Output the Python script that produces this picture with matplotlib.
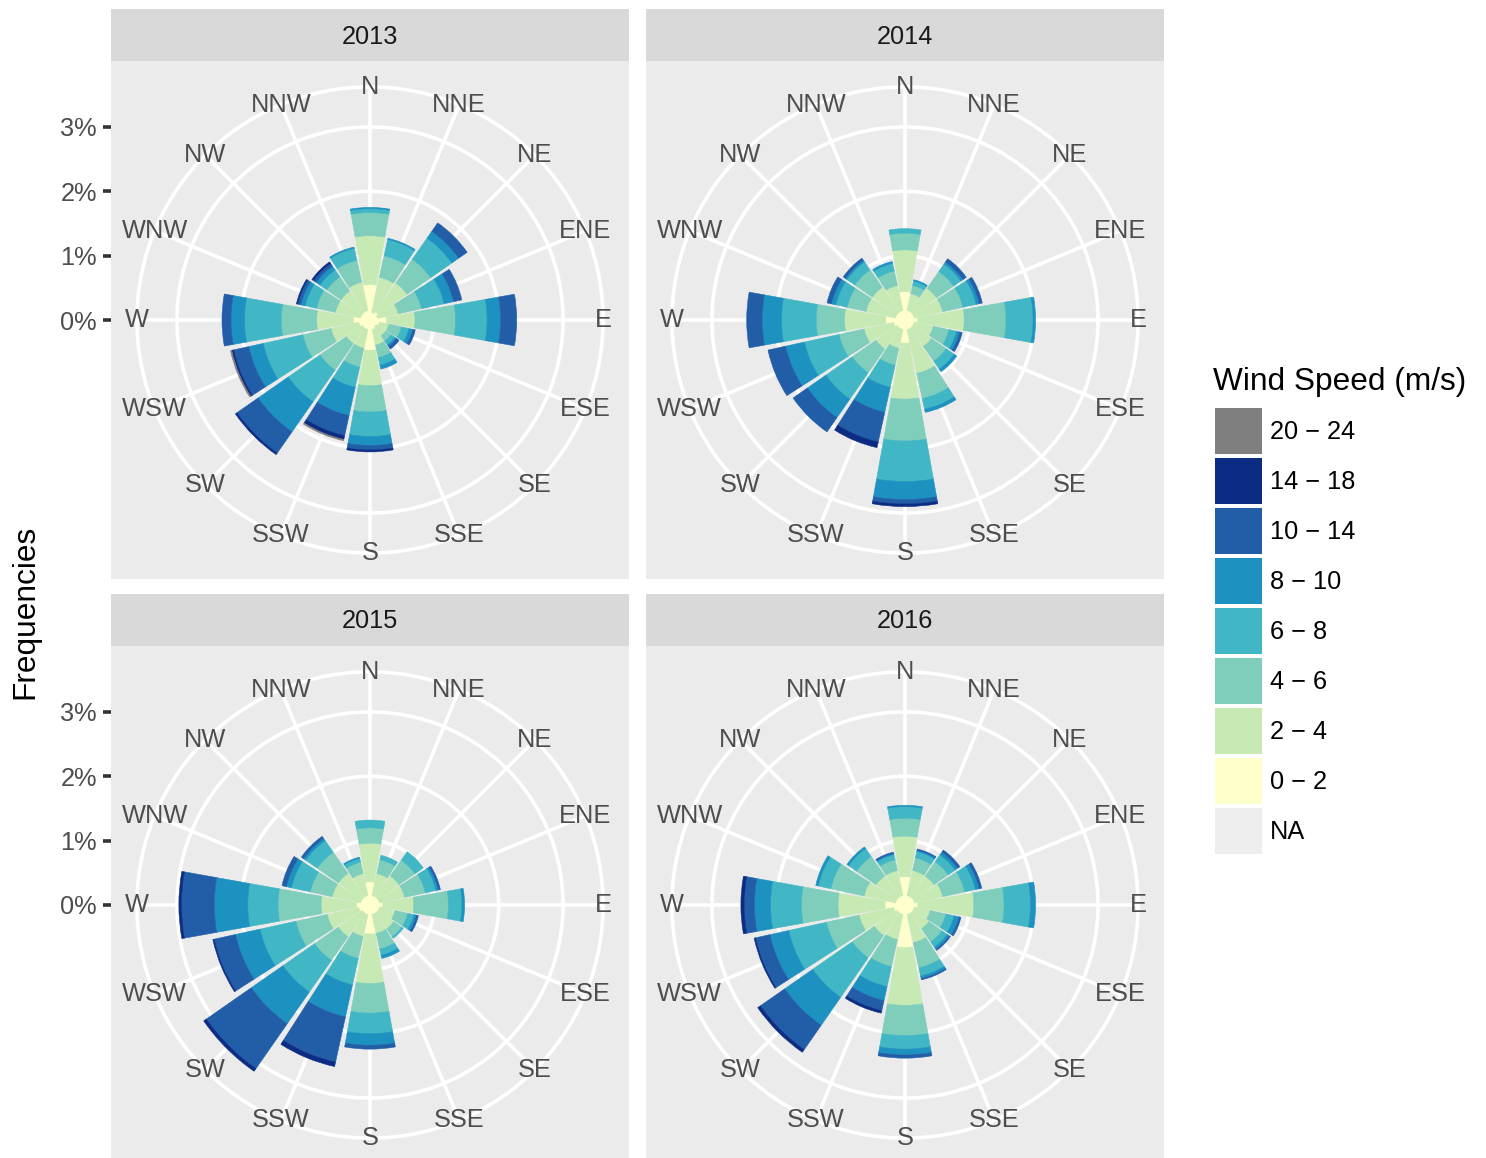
import numpy as np
import matplotlib
matplotlib.use("Agg")
import matplotlib.pyplot as plt
from matplotlib.patches import Rectangle

plt.rcParams['font.family'] = ['Liberation Sans', 'DejaVu Sans']

W_PX, H_PX, DPI = 1486, 1158, 100

directions = ["N", "NNE", "NE", "ENE", "E", "ESE", "SE", "SSE",
              "S", "SSW", "SW", "WSW", "W", "WNW", "NW", "NNW"]
speed_bins = ["0 \u2212 2", "2 \u2212 4", "4 \u2212 6", "6 \u2212 8",
              "8 \u2212 10", "10 \u2212 14", "14 \u2212 18", "20 \u2212 24"]
bin_colors = ["#FFFFCC", "#C7E9B4", "#7FCDBB", "#41B6C4",
              "#1D91C0", "#225EA8", "#0C2C84", "#7F7F7F"]
na_color = "#EEEEEE"
years = ["2013", "2014", "2015", "2016"]

# Frequency (%) of each direction (rows, N clockwise) per speed bin (columns)
freq_2013 = [
    [0.55, 0.76, 0.36, 0.06, 0.02, 0.00, 0.00, 0.00],
    [0.12, 0.56, 0.34, 0.26, 0.02, 0.00, 0.00, 0.00],
    [0.15, 0.55, 0.45, 0.40, 0.13, 0.16, 0.00, 0.00],
    [0.12, 0.33, 0.37, 0.36, 0.15, 0.13, 0.00, 0.00],
    [0.26, 0.44, 0.63, 0.49, 0.21, 0.25, 0.00, 0.00],
    [0.15, 0.15, 0.20, 0.12, 0.06, 0.04, 0.00, 0.00],
    [0.12, 0.18, 0.10, 0.07, 0.03, 0.05, 0.00, 0.00],
    [0.15, 0.25, 0.20, 0.12, 0.06, 0.00, 0.00, 0.00],
    [0.47, 0.55, 0.41, 0.38, 0.14, 0.07, 0.03, 0.00],
    [0.15, 0.30, 0.30, 0.32, 0.45, 0.32, 0.06, 0.02],
    [0.15, 0.30, 0.50, 0.60, 0.57, 0.40, 0.03, 0.00],
    [0.18, 0.44, 0.45, 0.63, 0.23, 0.24, 0.03, 0.02],
    [0.26, 0.57, 0.55, 0.57, 0.21, 0.14, 0.00, 0.00],
    [0.15, 0.40, 0.30, 0.18, 0.07, 0.05, 0.02, 0.00],
    [0.15, 0.40, 0.27, 0.13, 0.07, 0.05, 0.03, 0.00],
    [0.15, 0.45, 0.35, 0.19, 0.02, 0.00, 0.00, 0.00],
]
freq_2014 = [
    [0.44, 0.65, 0.26, 0.07, 0.00, 0.00, 0.00, 0.00],
    [0.15, 0.27, 0.13, 0.07, 0.02, 0.00, 0.00, 0.00],
    [0.15, 0.45, 0.32, 0.14, 0.04, 0.06, 0.00, 0.00],
    [0.15, 0.45, 0.32, 0.21, 0.05, 0.05, 0.00, 0.00],
    [0.20, 0.72, 0.65, 0.42, 0.04, 0.00, 0.00, 0.00],
    [0.15, 0.30, 0.25, 0.12, 0.05, 0.04, 0.00, 0.00],
    [0.15, 0.35, 0.28, 0.15, 0.05, 0.00, 0.00, 0.00],
    [0.15, 0.70, 0.40, 0.17, 0.05, 0.00, 0.00, 0.00],
    [0.36, 0.87, 0.65, 0.63, 0.28, 0.07, 0.04, 0.00],
    [0.15, 0.30, 0.27, 0.35, 0.40, 0.47, 0.09, 0.00],
    [0.15, 0.40, 0.45, 0.50, 0.35, 0.27, 0.00, 0.00],
    [0.18, 0.47, 0.40, 0.55, 0.30, 0.28, 0.00, 0.00],
    [0.30, 0.64, 0.44, 0.54, 0.30, 0.24, 0.00, 0.00],
    [0.15, 0.47, 0.30, 0.18, 0.07, 0.07, 0.00, 0.00],
    [0.15, 0.47, 0.33, 0.15, 0.03, 0.04, 0.00, 0.00],
    [0.15, 0.40, 0.23, 0.12, 0.03, 0.00, 0.00, 0.00],
]
freq_2015 = [
    [0.36, 0.60, 0.24, 0.12, 0.00, 0.00, 0.00, 0.00],
    [0.15, 0.35, 0.22, 0.07, 0.00, 0.00, 0.00, 0.00],
    [0.15, 0.40, 0.30, 0.16, 0.00, 0.00, 0.00, 0.00],
    [0.15, 0.40, 0.33, 0.17, 0.04, 0.03, 0.00, 0.00],
    [0.20, 0.48, 0.54, 0.21, 0.04, 0.00, 0.00, 0.00],
    [0.15, 0.25, 0.20, 0.10, 0.04, 0.03, 0.00, 0.00],
    [0.15, 0.30, 0.15, 0.03, 0.00, 0.00, 0.00, 0.00],
    [0.15, 0.30, 0.25, 0.10, 0.05, 0.00, 0.00, 0.00],
    [0.45, 0.77, 0.46, 0.32, 0.18, 0.06, 0.00, 0.00],
    [0.15, 0.35, 0.35, 0.42, 0.51, 0.72, 0.07, 0.00],
    [0.15, 0.45, 0.45, 0.60, 0.60, 0.85, 0.05, 0.00],
    [0.18, 0.50, 0.50, 0.57, 0.39, 0.34, 0.02, 0.00],
    [0.21, 0.55, 0.67, 0.47, 0.52, 0.51, 0.04, 0.00],
    [0.15, 0.45, 0.35, 0.30, 0.08, 0.07, 0.00, 0.00],
    [0.15, 0.45, 0.40, 0.22, 0.04, 0.04, 0.00, 0.00],
    [0.15, 0.35, 0.18, 0.06, 0.02, 0.00, 0.00, 0.00],
]
freq_2016 = [
    [0.44, 0.63, 0.28, 0.18, 0.02, 0.00, 0.00, 0.00],
    [0.15, 0.40, 0.20, 0.10, 0.02, 0.02, 0.00, 0.00],
    [0.15, 0.40, 0.27, 0.13, 0.05, 0.04, 0.00, 0.00],
    [0.15, 0.45, 0.35, 0.17, 0.06, 0.04, 0.00, 0.00],
    [0.20, 0.87, 0.47, 0.41, 0.08, 0.00, 0.00, 0.00],
    [0.15, 0.25, 0.25, 0.13, 0.08, 0.03, 0.00, 0.00],
    [0.15, 0.30, 0.25, 0.10, 0.04, 0.02, 0.00, 0.00],
    [0.15, 0.45, 0.40, 0.13, 0.04, 0.02, 0.00, 0.00],
    [0.66, 0.90, 0.47, 0.21, 0.09, 0.05, 0.00, 0.00],
    [0.15, 0.40, 0.43, 0.32, 0.22, 0.16, 0.04, 0.00],
    [0.15, 0.43, 0.42, 0.75, 0.53, 0.46, 0.05, 0.00],
    [0.18, 0.55, 0.52, 0.60, 0.30, 0.23, 0.02, 0.00],
    [0.31, 0.73, 0.57, 0.48, 0.25, 0.16, 0.05, 0.00],
    [0.15, 0.50, 0.53, 0.20, 0.04, 0.00, 0.00, 0.00],
    [0.15, 0.40, 0.37, 0.15, 0.03, 0.00, 0.00, 0.00],
    [0.15, 0.40, 0.17, 0.08, 0.02, 0.02, 0.00, 0.00],
]
freq_by_year = {"2013": freq_2013, "2014": freq_2014,
                "2015": freq_2015, "2016": freq_2016}

r_ticks = [0, 1, 2, 3]
r_tick_labels = ["0%", "1%", "2%", "3%"]
R_LIMIT = 3.22          # upper limit of the frequency scale (%)

# ---- layout (pixels, origin top-left) ----
PANEL = 518
STRIP_H = 52
centers = {"2013": (370, 320), "2014": (905, 320),
           "2015": (370, 905), "2016": (905, 905)}
left_column = {"2013", "2015"}

BG = "#EBEBEB"
STRIP_BG = "#D9D9D9"
GRID = "white"
GRID_LW = 2.6
AXIS_TXT = "#4D4D4D"
SMALL = 18.3
LARGE = 22.8

px_per_pct = 0.4 * PANEL / R_LIMIT
r_outer = R_LIMIT * 0.45 / 0.4


def fig_rect(x0, y0, w, h):
    return [x0 / W_PX, 1 - (y0 + h) / H_PX, w / W_PX, h / H_PX]


fig = plt.figure(figsize=(W_PX / DPI, H_PX / DPI), dpi=DPI)
fig.patch.set_facecolor("white")

# overlay in pixel coordinates for strips, titles and the legend
ov = fig.add_axes([0, 0, 1, 1], zorder=5)
ov.set_xlim(0, W_PX)
ov.set_ylim(H_PX, 0)
ov.axis("off")
ov.patch.set_alpha(0)

theta = np.deg2rad(np.arange(16) * 22.5)
bar_w = 0.9 * 2 * np.pi / 16
circle_t = np.linspace(0, 2 * np.pi, 721)

for yr in years:
    cx, cy = centers[yr]
    half = PANEL / 2

    # panel background (also carries the radial axis on the left column)
    bg = fig.add_axes(fig_rect(cx - half, cy - half, PANEL, PANEL), zorder=1)
    bg.set_facecolor(BG)
    bg.set_xlim(-half, half)
    bg.set_ylim(-half / px_per_pct, half / px_per_pct)
    for s in bg.spines.values():
        s.set_visible(False)
    bg.set_xticks([])
    if yr in left_column:
        bg.set_yticks(r_ticks)
        bg.set_yticklabels(r_tick_labels)
        bg.tick_params(axis="y", length=6.0, width=2.6, color="#333333",
                       labelsize=SMALL, labelcolor=AXIS_TXT, pad=4.2)
    else:
        bg.set_yticks([])

    # strip
    ov.add_patch(Rectangle((cx - half, cy - half - STRIP_H), PANEL, STRIP_H,
                           facecolor=STRIP_BG, edgecolor="none"))
    ov.text(cx, cy - half - STRIP_H / 2 + 1.5, yr, ha="center", va="center",
            fontsize=SMALL, color="#1A1A1A")

    # polar rose
    ax = fig.add_axes(fig_rect(cx - 0.45 * PANEL, cy - 0.45 * PANEL,
                               0.9 * PANEL, 0.9 * PANEL),
                      projection="polar", zorder=2)
    ax.patch.set_alpha(0)
    ax.set_theta_zero_location("N")
    ax.set_theta_direction(-1)
    ax.set_ylim(0, r_outer)
    ax.grid(False)
    ax.set_xticks([])
    ax.set_yticks([])
    ax.spines["polar"].set_visible(False)

    for r in r_ticks[1:] + [r_outer]:
        ax.plot(circle_t, np.full_like(circle_t, r), color=GRID, lw=GRID_LW,
                zorder=1, clip_on=False)
    for t in theta:
        ax.plot([t, t], [0, r_outer], color=GRID, lw=GRID_LW, zorder=1,
                clip_on=False)

    vals = np.array(freq_by_year[yr])
    base = np.zeros(len(directions))
    for k, col in enumerate(bin_colors):
        h = vals[:, k]
        m = h > 0
        if m.any():
            ax.bar(theta[m], h[m], width=bar_w, bottom=base[m], color=col,
                   edgecolor=col, linewidth=0.4, zorder=3, align="center")
        base = base + h

    for t, lab in zip(theta, directions):
        ax.text(t, r_outer, lab, ha="center", va="center", fontsize=SMALL,
                color=AXIS_TXT, zorder=4, clip_on=False)

# y-axis title
ov.text(25, 612, "Frequencies", rotation=90, ha="center", va="center",
        fontsize=LARGE, color="black")

# legend
ov.text(1213, 382, "Wind Speed (m/s)", ha="left", va="center",
        fontsize=LARGE, color="black")
legend_labels = speed_bins[::-1] + ["NA"]
legend_colors = bin_colors[::-1] + [na_color]
for i, (lab, col) in enumerate(zip(legend_labels, legend_colors)):
    y0 = 406 + 50 * i
    ov.add_patch(Rectangle((1213.3, y0), 50, 50, facecolor="white",
                           edgecolor="none"))
    ov.add_patch(Rectangle((1215, y0 + 1.7), 46.7, 46.6, facecolor=col,
                           edgecolor="none"))
    ov.text(1270, y0 + 26, lab, ha="left", va="center", fontsize=SMALL,
            color="black")

fig.savefig("out.png", dpi=DPI, facecolor="white")
